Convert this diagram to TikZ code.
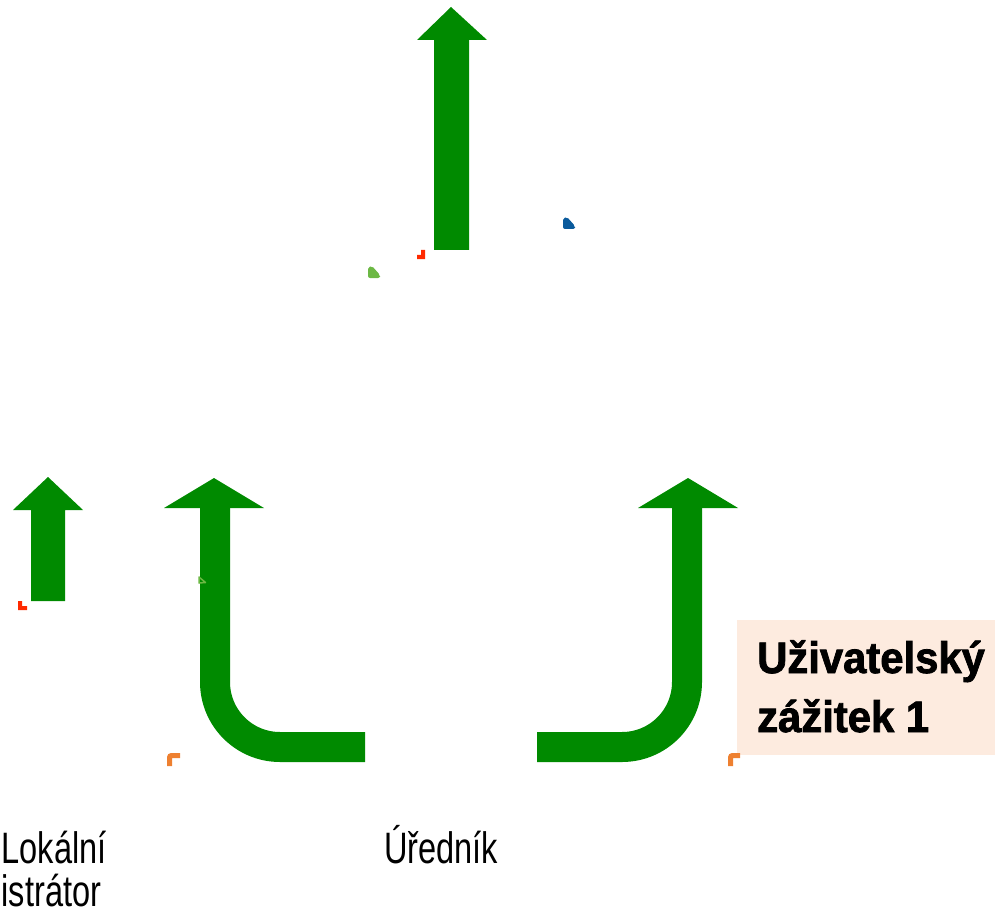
\documentclass[tikz,border=0pt]{standalone}
\usepackage{fontspec}
\newfontfamily\lightc[FakeStretch=0.74]{Liberation Sans}
\newfontfamily\boldc[FakeStretch=0.95,FakeBold=1.8]{Liberation Sans Bold}
\definecolor{arrgreen}{RGB}{0,138,0}
\definecolor{peach}{RGB}{253,235,223}
\definecolor{mred}{RGB}{255,42,0}
\definecolor{morange}{RGB}{238,128,48}
\definecolor{mblue}{RGB}{10,90,156}
\definecolor{mlgreen}{RGB}{108,184,68}
\tikzset{
  arrfill/.style={fill=arrgreen, draw=none},
  arrline/.style={draw=arrgreen, line width=30pt, rounded corners=65pt},
  lbl/.style={font=\lightc\fontsize{44}{50}\selectfont, inner sep=0pt, anchor=base west, text=black},
  ttl/.style={font=\boldc\fontsize{44}{50}\selectfont, inner sep=0pt, anchor=base west, text=black},
}
\begin{document}
\begin{tikzpicture}[x=1pt,y=-1pt]
\useasboundingbox (0,0) rectangle (995,917);
% top arrow
\fill[arrfill] (434,250) -- (434,40) -- (417,40) -- (451,7) -- (487,40) -- (469,40) -- (469,250) -- cycle;
% small left arrow
\fill[arrfill] (31,601) -- (31,510) -- (13,510) -- (48,477) -- (83,510) -- (65,510) -- (65,601) -- cycle;
% left L arrow
\draw[arrline] (365,747) -- (215,747) -- (215,506);
\fill[arrfill] (164,508) -- (214,478) -- (264,508) -- cycle;
% right L arrow
\draw[arrline] (537,747) -- (687,747) -- (687,506);
\fill[arrfill] (638,508) -- (688,478) -- (738,508) -- cycle;
% title box
\fill[peach] (737,620) rectangle (995,755);
\node[ttl] (t1) at (757,673) {Uživatelský};
\node[ttl] (t2) at (757,732) {zážitek 1};
% labels
\node[lbl] (l1) at (1.5,863) {Lokální};
\node[lbl] (l2) at (1.5,906) {istrátor};
\node[lbl] (l3) at (384,863) {Úředník};
% small marks
\fill[mred] (421,250) -- (425,250) -- (425,259) -- (417,259) -- (417,255) -- (421,255) -- cycle;
\fill[mred] (18,601) -- (22,601) -- (22,606) -- (27,606) -- (27,610) -- (18,610) -- cycle;
\draw[morange, line width=5pt, rounded corners=2pt] (169.5,766) -- (169.5,755.5) -- (180,755.5);
\draw[morange, line width=5pt, rounded corners=2pt] (730.5,766) -- (730.5,755.5) -- (740,755.5);
\fill[mblue, rounded corners=2pt] (563,218) -- (567,217) -- (575,226) -- (575,229) -- (563,229) -- cycle;
\fill[mlgreen, rounded corners=2pt] (368,267) -- (372,266) -- (380,275) -- (380,278) -- (368,278) -- cycle;
\draw[mlgreen, line width=1.5pt, line join=round] (199,577) -- (199,583) -- (205.5,582.5) -- cycle;
\end{tikzpicture}
\end{document}
